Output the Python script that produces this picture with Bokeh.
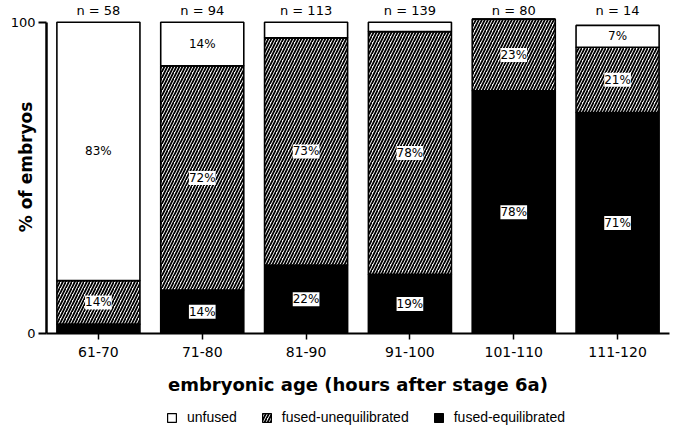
from bokeh.plotting import figure
from bokeh.layouts import column
from bokeh.models import (ColumnDataSource, FactorRange, Range1d, FixedTicker,
                          LabelSet, Legend, LegendItem)
from bokeh.core.properties import value
from bokeh.embed import file_html
from bokeh.resources import INLINE

# ---- data ----
ages = ["61-70", "71-80", "81-90", "91-100", "101-110", "111-120"]
n_counts = [58, 94, 113, 139, 80, 14]
fused_equilibrated = [3, 14, 22, 19, 78, 71]
fused_unequilibrated = [14, 72, 73, 78, 23, 21]
unfused = [83, 14, 5, 3, 0, 7]
series_names = ["fused-equilibrated", "fused-unequilibrated", "unfused"]
y_ticks = [0, 100]

fills = ["black", "white", "white"]
hatches = [" ", "/", " "]
HATCH = dict(hatch_color="black", hatch_scale=6, hatch_weight=1.8)

source = ColumnDataSource(dict(age=ages, eq=fused_equilibrated,
                               uneq=fused_unequilibrated, unf=unfused))

p = figure(x_range=FactorRange(factors=ages, range_padding=0),
           y_range=Range1d(0, 107),
           width=673, height=400, output_backend="svg", toolbar_location=None,
           min_border_left=46, min_border_right=4, min_border_top=0,
           min_border_bottom=67)
p.outline_line_color = None
p.xgrid.visible = False
p.ygrid.visible = False
p.background_fill_color = "white"
p.border_fill_color = "white"

rs = p.vbar_stack(["eq", "uneq", "unf"], x="age", width=0.8, source=source,
                  fill_color=fills, line_color="black", line_width=1.6,
                  hatch_pattern=hatches, **HATCH)

# percentage labels at segment midpoints
lx, ly, lt = [], [], []
for i, a in enumerate(ages):
    base = 0
    for v in (fused_equilibrated[i], fused_unequilibrated[i], unfused[i]):
        if v >= 7:
            lx.append(a)
            ly.append(base + v / 2)
            lt.append(f"{v}%")
        base += v
pct_src = ColumnDataSource(dict(x=lx, y=ly, t=lt))
p.add_layout(LabelSet(x="x", y="y", text="t", source=pct_src,
                      text_align="center", text_baseline="middle",
                      text_font=value("DejaVu Sans"), text_font_size="12px",
                      text_color="black", background_fill_color="white"))

# n labels above bars
n_src = ColumnDataSource(dict(x=ages, y=[102.2] * len(ages),
                              t=[f"n = {n}" for n in n_counts]))
p.add_layout(LabelSet(x="x", y="y", text="t", source=n_src,
                      text_align="center", text_baseline="alphabetic",
                      text_font=value("DejaVu Sans"), text_font_size="13px",
                      text_color="black"))

# axes
ya = p.yaxis[0]
ya.ticker = FixedTicker(ticks=y_ticks)
ya.bounds = (0, 100)
ya.major_tick_out = 8
ya.major_tick_in = 0
ya.minor_tick_out = 0
ya.minor_tick_in = 0
ya.axis_line_width = 2.5
ya.major_tick_line_width = 2
ya.major_label_text_font = "DejaVu Sans"
ya.major_label_text_font_size = "13px"
ya.major_label_text_color = "black"
ya.major_label_standoff = 3
ya.axis_label = "% of embryos"
ya.axis_label_text_font = "DejaVu Sans"
ya.axis_label_text_font_style = "bold"
ya.axis_label_text_font_size = "17px"
ya.axis_label_text_color = "black"
ya.axis_label_standoff = -28

xa = p.xaxis[0]
xa.major_tick_out = 6
xa.major_tick_in = 0
xa.axis_line_width = 2
xa.major_tick_line_width = 1.5
xa.major_label_text_font = "DejaVu Sans"
xa.major_label_text_font_size = "14px"
xa.major_label_text_color = "black"
xa.major_label_standoff = 7
xa.axis_label = "embryonic age (hours after stage 6a)"
xa.axis_label_text_font = "DejaVu Sans"
xa.axis_label_text_font_style = "bold"
xa.axis_label_text_font_size = "18px"
xa.axis_label_text_color = "black"
xa.axis_label_standoff = 14

# legend strip underneath (its swatches use the same bar styles)
p2 = figure(width=673, height=27, x_range=Range1d(0, 1), y_range=Range1d(0, 1),
            output_backend="svg", toolbar_location=None,
            x_axis_location=None, y_axis_location=None,
            min_border_left=0, min_border_right=0, min_border_top=0,
            min_border_bottom=0)
p2.outline_line_color = None
p2.grid.visible = False
nan = float("nan")
swatch = {}
for name, fc, hp in zip(series_names, fills, hatches):
    swatch[name] = p2.vbar(x=[nan], top=[nan], bottom=[nan], width=0.5,
                           fill_color=fc, line_color="black", line_width=1.2,
                           hatch_pattern=hp, **HATCH)
legend = Legend(items=[LegendItem(label=n, renderers=[swatch[n]])
                       for n in reversed(series_names)],
                orientation="horizontal", location=(120, 2),
                glyph_width=11, glyph_height=11, label_height=11,
                label_standoff=10, spacing=24, padding=2, margin=0,
                border_line_color=None, background_fill_alpha=0,
                label_text_font="Liberation Sans", label_text_font_size="14px",
                label_text_color="black")
p2.add_layout(legend, "center")

layout = column(p, p2, spacing=0)
open("out.html", "w").write(file_html(layout, INLINE))
